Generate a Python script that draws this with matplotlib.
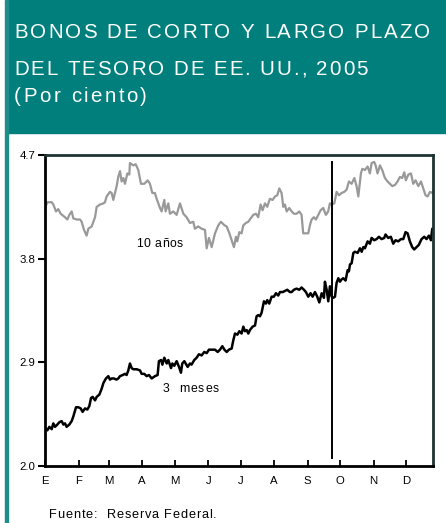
import matplotlib
matplotlib.use("Agg")
import matplotlib.pyplot as plt
import pandas as pd
from matplotlib.patches import Rectangle

plt.rcParams["font.family"] = ["Liberation Sans", "DejaVu Sans"]

TEAL = "#007F7D"

# days since 1 Jan 2005
bond10_days = [
    0, 2.2, 6.2, 7.7, 10.2, 12.3, 14.5, 18.5, 20.7, 22.5, 24.7, 26.2, 29.3, 32.4,
    33.9, 36.1, 38.5, 40.1, 43.2, 46.3, 47.8, 50.9, 54, 55.5, 57, 60.1, 61.7, 63.2,
    66.3, 67.8, 69.4, 70.9, 72.5, 74, 76.2, 78, 78.6, 81.7, 83.9, 86.3, 88.8, 91.9,
    95.0, 97.1, 99.3, 101.7, 103.3, 106.4, 107.9, 110.4, 111.6, 114.1, 115.6, 118.7,
    121.8, 124.9, 128, 131, 134.1, 137.2, 138.7, 141.8, 144.9, 148, 149.6, 151.7,
    154.2, 157.3, 160.4, 162.8, 166, 168.1, 170.6, 172.7, 174.8, 176.7, 177.9, 179.8,
    181.9, 183.5, 185.9, 188.1, 190.3, 192.7, 195.2, 197.3, 199.5, 201.3, 203.5,
    205.6, 208.1, 210.6, 212.8, 214.9, 216.8, 218.9, 220.5, 222, 223.6, 226, 228.2,
    230.3, 232.8, 235.3, 237.4, 238.9, 241.4, 243.6, 245.1, 246.7, 248.8, 250.7,
    252.8, 255, 257.4, 259.9, 262, 263.6, 265.2, 267.7, 269.8, 272, 274.4, 276.9,
    279.1, 281.2, 283.7, 286.2, 288.3, 289.9, 292.3, 293.6, 296, 298.5, 300.6, 302.2,
    304.6, 305.9, 307.7, 309.9, 312, 314.5, 317, 319.1, 321.3, 323.8, 326.2, 328.4,
    330.5, 332.4, 333.9, 336.2, 338.6, 340.7, 342.9, 345.4, 347.9, 350, 352.1, 354,
    356.2, 358.3, 359,
]
bond10_vals = [
    4.24, 4.29, 4.29, 4.27, 4.21, 4.23, 4.19, 4.16, 4.14, 4.18, 4.21, 4.15, 4.14, 4.14,
    4.12, 4.05, 4.00, 4.06, 4.08, 4.16, 4.25, 4.27, 4.28, 4.29, 4.34, 4.38, 4.37, 4.31,
    4.43, 4.51, 4.56, 4.47, 4.50, 4.45, 4.54, 4.53, 4.63, 4.61, 4.62, 4.57, 4.45, 4.45,
    4.48, 4.45, 4.37, 4.37, 4.32, 4.24, 4.21, 4.31, 4.21, 4.28, 4.19, 4.21, 4.18, 4.28,
    4.19, 4.16, 4.11, 4.12, 4.06, 4.08, 4.06, 4.05, 3.89, 3.98, 3.90, 4.02, 4.09, 4.12,
    4.09, 4.08, 4.02, 3.96, 3.90, 3.99, 3.95, 4.03, 4.02, 4.09, 4.11, 4.12, 4.15, 4.18,
    4.19, 4.16, 4.27, 4.22, 4.28, 4.25, 4.32, 4.31, 4.34, 4.35, 4.41, 4.37, 4.25, 4.27,
    4.21, 4.24, 4.21, 4.19, 4.19, 4.21, 4.18, 4.02, 4.02, 4.02, 4.09, 4.14, 4.16, 4.14,
    4.18, 4.22, 4.24, 4.18, 4.21, 4.28, 4.27, 4.28, 4.38, 4.35, 4.37, 4.38, 4.40, 4.47,
    4.45, 4.50, 4.43, 4.34, 4.54, 4.58, 4.57, 4.60, 4.54, 4.63, 4.64, 4.61, 4.54, 4.61,
    4.57, 4.50, 4.47, 4.45, 4.43, 4.44, 4.47, 4.51, 4.50, 4.55, 4.48, 4.53, 4.54, 4.45,
    4.48, 4.43, 4.47, 4.41, 4.35, 4.34, 4.38, 4.37, 4.38,
]

bill3_days = [
    0, 2.2, 4.0, 6.2, 7.7, 9.3, 11.4, 13.3, 15.4, 17, 18.5, 20, 22.5, 24.7, 26.2, 28.7,
    30.8, 33, 34.8, 37, 39.2, 41, 42.6, 44.1, 46.3, 47.8, 50.3, 52.4, 54, 56.4, 58.6,
    60.1, 61.7, 63.8, 66.1, 67.8, 69.4, 71.9, 74, 75.5, 77.1, 78.6, 80.2, 81.7, 84.8,
    87.9, 89.4, 91.9, 94, 96.2, 98.7, 101.7, 104.2, 105.4, 107.4, 108.6, 110.4, 112.6,
    114.1, 116.6, 117.8, 119.6, 121.8, 124, 125.8, 127, 128.9, 130.1, 132, 134.1,
    135.6, 138.1, 140.3, 142.4, 144.9, 147.4, 149.6, 151.7, 154.2, 157.3, 159.8,
    161.9, 164.1, 166, 168.1, 170.2, 172.7, 174.2, 175.8, 178, 179.8, 181.9, 183.5,
    185, 186.6, 188.1, 189.6, 192.1, 194.3, 195.8, 197.3, 198.9, 200.4, 202.6, 204.4,
    205.6, 207.5, 209.7, 211.8, 213.7, 215.8, 217.4, 219.9, 222, 224.2, 226.6, 228.2,
    230.3, 232.8, 235.3, 237.4, 239.6, 241.4, 243.6, 245.7, 247.6, 249.8, 251.9,
    253.8, 256, 258.1, 259, 260.6, 262.1, 263.6, 265.2, 266.7, 268.3, 269.8, 271.4,
    272.9, 274.4, 276, 278.1, 280, 281.2, 282.2, 283.7, 285.3, 286.8, 289.3, 291.4,
    293, 294.5, 296, 298.5, 300.6, 302.2, 304.6, 306.8, 309, 311.4, 313.9, 315.1,
    317.6, 320, 322.2, 324.4, 326.8, 329.3, 331.5, 333.6, 335.5, 337.6, 339.8, 341.6,
    343.8, 345.9, 348.4, 350.9, 353, 355.2, 357.1, 358.3, 359,
]
bill3_vals = [
    2.33, 2.31, 2.34, 2.32, 2.37, 2.34, 2.36, 2.38, 2.39, 2.36, 2.37, 2.34, 2.36, 2.39,
    2.43, 2.51, 2.51, 2.50, 2.47, 2.50, 2.49, 2.52, 2.59, 2.60, 2.57, 2.60, 2.62, 2.67,
    2.72, 2.76, 2.78, 2.75, 2.76, 2.76, 2.75, 2.76, 2.78, 2.79, 2.80, 2.79, 2.83, 2.89,
    2.85, 2.84, 2.84, 2.83, 2.80, 2.80, 2.78, 2.79, 2.76, 2.78, 2.79, 2.91, 2.92, 2.88,
    2.94, 2.89, 2.92, 2.85, 2.89, 2.87, 2.91, 2.86, 2.81, 2.89, 2.91, 2.89, 2.86, 2.89,
    2.88, 2.92, 2.94, 2.97, 2.96, 2.99, 2.98, 3.01, 3.01, 3.01, 2.99, 3.01, 3.04, 3.01,
    2.99, 3.01, 3.02, 3.09, 3.15, 3.14, 3.17, 3.15, 3.21, 3.17, 3.18, 3.15, 3.18, 3.21,
    3.22, 3.30, 3.31, 3.30, 3.33, 3.43, 3.41, 3.44, 3.41, 3.47, 3.47, 3.50, 3.48, 3.51,
    3.51, 3.52, 3.53, 3.51, 3.51, 3.53, 3.54, 3.53, 3.55, 3.53, 3.51, 3.47, 3.50, 3.47,
    3.51, 3.47, 3.42, 3.50, 3.46, 3.60, 3.53, 3.43, 3.56, 3.47, 3.46, 3.47, 3.59, 3.63,
    3.60, 3.62, 3.63, 3.61, 3.70, 3.69, 3.75, 3.76, 3.85, 3.86, 3.85, 3.89, 3.86, 3.90,
    3.89, 3.95, 3.93, 3.98, 3.96, 3.97, 3.99, 3.97, 3.98, 4.01, 3.98, 3.99, 3.93, 3.96,
    3.95, 3.97, 3.97, 4.03, 4.02, 3.95, 3.90, 3.88, 3.90, 3.92, 3.97, 3.99, 3.97, 4.00,
    3.96, 4.06, 4.06,
]

month_labels = ["E", "F", "M", "A", "M", "J", "J", "A", "S", "O", "N", "D"]
y_ticks = [2.0, 2.9, 3.8, 4.7]
marker_day = 266

title_lines = [
    "BONOS DE CORTO Y LARGO PLAZO",
    "DEL TESORO DE EE. UU., 2005",
    "(Por ciento)",
]
source_note = "Fuente:  Reserva Federal."

W, H = 446, 523
fig = plt.figure(figsize=(W / 100, H / 100), dpi=100)
renderer = fig.canvas.get_renderer()


def _width(s, size):
    t = fig.text(0, 0, s, fontsize=size)
    w = t.get_window_extent(renderer).width
    t.remove()
    return w


def spaced_text(x_px, y_px, s, size, width, ha="left", **kw):
    """Draw s glyph by glyph on baseline y_px (from top), spread to the given width."""
    base = _width("ll", size)
    advances = [_width("l" + c + "l", size) - base for c in s]
    tracking = (width - sum(advances)) / (len(s) - 1)
    x = x_px - width / 2 if ha == "center" else x_px
    for c, adv in zip(s, advances):
        fig.text(x / W, 1 - y_px / H, c, fontsize=size, ha="left", va="baseline", **kw)
        x += adv + tracking


# header band and left border
fig.patches.append(Rectangle((6 / W, 1 - 133 / H), 1 - 6 / W, 133 / H,
                             transform=fig.transFigure, color=TEAL, zorder=0))
fig.patches.append(Rectangle((5 / W, 0), 2.5 / W, 1,
                             transform=fig.transFigure, color="#1F8E8A", zorder=0))

for line, base_y, width in zip(title_lines, [38.5, 74.5, 102.5], [416, 354, 133]):
    spaced_text(14, base_y, line, 14.8, width, color="white")

ax = fig.add_axes([45 / W, 1 - 466 / H, 388 / W, 311 / H])
ax.plot(bond10_days, bond10_vals, color="#999999", lw=1.6)
ax.plot(bill3_days, bill3_vals, color="black", lw=1.8)
ax.axvline(marker_day, ymin=0.025, ymax=0.977, color="black", lw=1.4)

ax.set_xlim(0, 359)
ax.set_ylim(2.0, 4.7)
ax.set_yticks(y_ticks)
ax.set_yticklabels([f"{v:.1f}" for v in y_ticks])
month_starts = pd.date_range("2005-01-01", periods=12, freq="MS").dayofyear - 1
ax.set_xticks(month_starts)
ax.set_xticklabels(month_labels)

ax.tick_params(axis="y", direction="out", length=5, width=1.5, labelsize=8.2,
               pad=2)
ax.tick_params(axis="x", direction="in", length=4.5, width=1.3, labelsize=8.2,
               pad=7)
for side in ["left", "bottom"]:
    ax.spines[side].set_linewidth(2)
    ax.spines[side].set_color("black")
for side in ["top", "right"]:
    ax.spines[side].set_linewidth(2)
    ax.spines[side].set_color("#1E3333")

# series labels, anchored in data units (baseline centre)
for text, (day, val), width in [("10 años", (105.9, 3.90), 47),
                                ("3  meses", (135, 2.645), 56)]:
    px, py = ax.transData.transform((day, val))
    spaced_text(px, H - py, text, 8.8, width, ha="center")

spaced_text(49, 517.5, source_note, 9.2, 167)

fig.savefig("out.png", dpi=100)
